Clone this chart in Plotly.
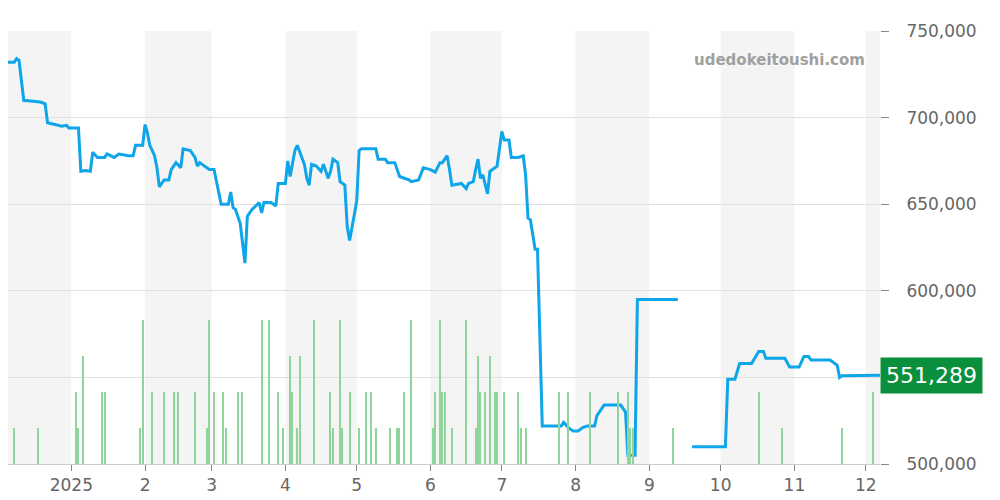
import plotly.graph_objects as go
import pandas as pd

price_dates = ["2024-12-02","2024-12-04","2024-12-08","2024-12-09","2024-12-10","2024-12-12","2024-12-19","2024-12-21","2024-12-22","2024-12-25","2024-12-28","2024-12-30","2024-12-31",
"2025-01-04","2025-01-05","2025-01-07","2025-01-09","2025-01-10","2025-01-12","2025-01-15","2025-01-16","2025-01-19","2025-01-21","2025-01-25","2025-01-27","2025-01-28","2025-01-31",
"2025-02-01","2025-02-02","2025-02-03","2025-02-05","2025-02-06","2025-02-07","2025-02-09","2025-02-11","2025-02-12","2025-02-14","2025-02-16","2025-02-17","2025-02-20","2025-02-22","2025-02-23","2025-02-24","2025-02-25","2025-02-28",
"2025-03-02","2025-03-03","2025-03-05","2025-03-08","2025-03-09","2025-03-10","2025-03-11","2025-03-13","2025-03-15","2025-03-16","2025-03-18","2025-03-21","2025-03-22","2025-03-23","2025-03-26","2025-03-28","2025-03-29",
"2025-04-01","2025-04-02","2025-04-03","2025-04-05","2025-04-06","2025-04-07","2025-04-09","2025-04-10","2025-04-11","2025-04-12","2025-04-14","2025-04-16","2025-04-17","2025-04-19","2025-04-20","2025-04-21","2025-04-23","2025-04-24","2025-04-26","2025-04-27","2025-04-28","2025-04-30",
"2025-05-01","2025-05-02","2025-05-03","2025-05-09","2025-05-10","2025-05-13","2025-05-14","2025-05-17","2025-05-19","2025-05-21","2025-05-23","2025-05-24","2025-05-27","2025-05-29",
"2025-06-01","2025-06-03","2025-06-05","2025-06-06","2025-06-08","2025-06-09","2025-06-10","2025-06-14","2025-06-16","2025-06-17","2025-06-19","2025-06-20","2025-06-21","2025-06-22","2025-06-23","2025-06-25","2025-06-26","2025-06-29","2025-06-30",
"2025-07-01","2025-07-02","2025-07-04","2025-07-05","2025-07-08","2025-07-10","2025-07-11","2025-07-12","2025-07-13","2025-07-15","2025-07-16","2025-07-18","2025-07-26","2025-07-27","2025-07-29","2025-07-31",
"2025-08-02","2025-08-04","2025-08-06","2025-08-09","2025-08-10","2025-08-11","2025-08-13","2025-08-14","2025-08-20","2025-08-22","2025-08-23","2025-08-26","2025-08-27","2025-09-13",
"2025-09-16",
"2025-09-19","2025-10-03","2025-10-04","2025-10-07","2025-10-09","2025-10-14","2025-10-17","2025-10-19","2025-10-20","2025-10-28","2025-10-30",
"2025-11-03","2025-11-05","2025-11-07","2025-11-08","2025-11-16","2025-11-18","2025-11-19","2025-11-20","2025-11-21","2025-12-07"]
price_values = [736000,732000,732000,734000,733000,710000,709000,708000,697000,696000,695000,695500,694000,
694000,669000,669500,669000,680000,677000,677000,679000,677000,679000,678000,678000,684000,684000,
696000,691000,684000,678000,671000,660000,664000,664000,670000,674000,671000,682000,681000,677000,672000,674000,673000,670000,
670000,663000,650000,650000,657000,648000,647000,639000,616000,643000,647000,651000,645000,651000,651000,649000,662000,
662000,675000,666000,681000,684000,680000,673000,665000,661000,673000,672000,669000,673000,665000,669000,676000,674000,663000,661000,637000,629000,644000,
652000,681000,682000,682000,676000,676000,674000,674000,666000,665000,664000,663000,664000,671000,
670000,668500,674000,674000,678000,670000,661000,662000,659000,662000,663000,670000,676000,665000,667000,656000,669000,672000,683000,
692000,687000,687000,677000,677000,678000,667000,642000,641000,624000,624000,522000,522000,524000,521000,519000,
519000,521000,522000,522000,528000,530000,534000,534000,534000,530000,505000,505000,595000,595000,
None,
510000,510000,549000,549000,558000,558000,565000,565000,561000,561000,556000,
556000,562000,562000,560000,560000,558000,557000,550000,551000,551289]

vol_dates = ["2024-12-05","2024-12-08","2024-12-18","2025-01-03","2025-01-04","2025-01-06","2025-01-14","2025-01-15","2025-01-30","2025-01-31",
"2025-02-04","2025-02-09","2025-02-13","2025-02-15","2025-02-22","2025-02-27","2025-02-28","2025-03-02","2025-03-06","2025-03-07",
"2025-03-12","2025-03-14","2025-03-22","2025-03-25","2025-03-29","2025-03-31","2025-04-03","2025-04-04","2025-04-06","2025-04-07",
"2025-04-13","2025-04-20","2025-04-21","2025-04-24","2025-04-25","2025-04-28","2025-05-02","2025-05-05","2025-05-07","2025-05-09",
"2025-05-15","2025-05-18","2025-05-19","2025-05-21","2025-05-24","2025-06-02","2025-06-03","2025-06-05","2025-06-06","2025-06-07",
"2025-06-10","2025-06-16","2025-06-20","2025-06-21","2025-06-22","2025-06-24","2025-06-26","2025-06-28","2025-06-29",
"2025-07-02","2025-07-08","2025-07-09","2025-07-11","2025-07-25","2025-07-29","2025-08-07","2025-08-19","2025-08-23","2025-08-24","2025-08-25",
"2025-09-11","2025-10-17","2025-10-27","2025-11-21","2025-12-04"]
vol_values = [1,1,1,2,1,3,2,2,1,4, 2,2,2,2,2,1,4,2,2,1, 2,2,4,4,2,1,3,2,1,3, 4,2,1,4,1,2,1,2,2,1, 1,1,1,2,4,1,2,4,2,2, 1,4,1,3,2,2,3,2,2,
2,2,1,1,2,2,2,2,2,1,1, 1,2,1,1,2]

month_starts = pd.date_range("2024-12-01", "2026-01-01", freq="MS")
tick_vals = list(pd.date_range("2025-01-01", "2025-12-01", freq="MS"))
tick_text = ["2025","2","3","4","5","6","7","8","9","10","11","12"]
x_start, x_end = "2024-12-05 09:00", "2025-12-07"

fig = go.Figure()
for i in range(0, len(month_starts) - 1, 2):
    fig.add_vrect(x0=max(month_starts[i], pd.Timestamp(x_start)), x1=min(month_starts[i+1], pd.Timestamp(x_end)),
                  fillcolor="#f4f4f4", line_width=0, layer="below")

fig.add_trace(go.Bar(x=vol_dates, y=vol_values, yaxis="y2", marker=dict(color="#8fd49a", line_width=0),
                     width=86400000*0.5, hoverinfo="skip"))
fig.add_trace(go.Scatter(x=price_dates, y=price_values, mode="lines", line=dict(color="#0ea5e9", width=3),
                         connectgaps=False))

fig.update_layout(
    width=992, height=492, margin=dict(l=0, r=120, t=23, b=36),
    paper_bgcolor="white", plot_bgcolor="white", showlegend=False, bargap=0,
    font=dict(family="DejaVu Sans", color="#666666", size=17),
    xaxis=dict(range=[x_start, x_end], tickvals=tick_vals, ticktext=tick_text, showgrid=False,
               ticks="outside", ticklen=6, tickcolor="#888", showline=True, linecolor="#ccc"),
    yaxis=dict(range=[500000, 750000], side="right", tickvals=[500000,550000,600000,650000,700000,750000],
               tickformat=",", gridcolor="#e0e0e0", ticks="outside", ticklen=8, tickcolor="#888", zeroline=False,
               ticklabelstandoff=14),
    yaxis2=dict(range=[0, 12], overlaying="y", visible=False),
)
fig.add_annotation(x=0.985, y=0.958, xref="paper", yref="paper", text="<b>udedokeitoushi.com</b>",
                   showarrow=False, xanchor="right", font=dict(size=15, color="#a0a0a0"))
fig.add_annotation(x=1.0, y=price_values[-1], xref="paper", yref="y", text="551,289", showarrow=False,
                   xanchor="left", xshift=0, bgcolor="#0a8f3c", borderpad=5, font=dict(size=22, color="white"))
fig.write_html("out.html")
